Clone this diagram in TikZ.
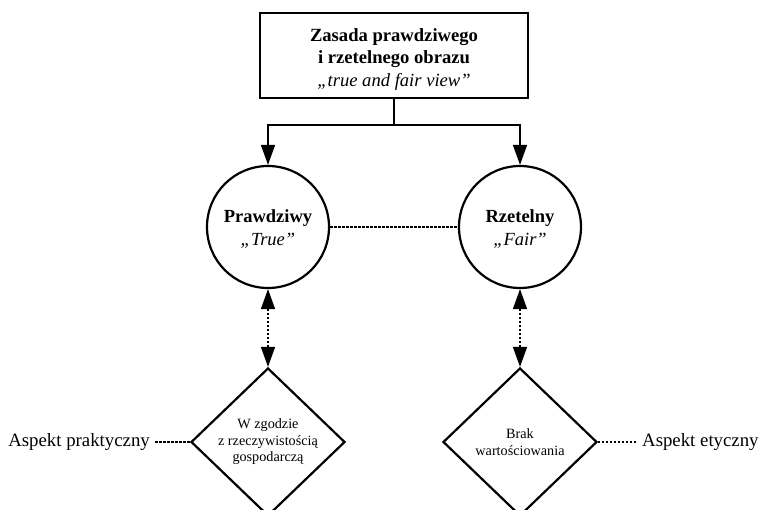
\documentclass[tikz,border=0pt]{standalone}
\usepackage{fontspec}
\setmainfont{Liberation Serif}
\usetikzlibrary{shapes.geometric,arrows.meta}
\begin{document}
\begin{tikzpicture}[x=1pt,y=-1pt,
 box/.style={draw,line width=2.2pt,minimum width=268pt,minimum height=85pt,align=center,inner sep=0pt,font=\fontsize{18.6}{22.5}\selectfont},
 circ/.style={draw,circle,line width=2.2pt,minimum size=122pt,align=center,inner sep=0pt,font=\fontsize{18.5}{23}\selectfont},
 dia/.style={draw,diamond,line width=2.2pt,minimum width=154pt,minimum height=148pt,align=center,inner sep=0pt,font=\fontsize{14.2}{16.5}\selectfont},
 lab/.style={font=\fontsize{18.8}{20}\selectfont,inner sep=0pt},
 conn/.style={line width=1.4pt},
 dots/.style={line width=1.4pt,dash pattern=on 2.5pt off 1.5pt},
 tip/.style={-{Triangle[length=20pt,width=14pt]}},
 tips/.style={{Triangle[length=20pt,width=14pt]}-{Triangle[length=20pt,width=14pt]}}
]
\useasboundingbox (0,0) rectangle (761,510);
\clip (0,0) rectangle (761,510);
\node[box] (top) at (394,55.5) {\rule{0pt}{20pt}\textbf{Zasada prawdziwego}\\\textbf{i rzetelnego obrazu}\\\textit{„true and fair view”}};
\node[circ] (c1) at (268,227) {\rule{0pt}{17pt}\textbf{Prawdziwy}\\\textit{„True”}};
\node[circ] (c2) at (520,227) {\rule{0pt}{17pt}\textbf{Rzetelny}\\\textit{„Fair”}};
\node[dia] (d1) at (268,442) {W zgodzie\\z rzeczywistością\\gospodarczą};
\node[dia] (d2) at (520,442) {Brak\\wartościowania};
\node[lab,anchor=east] (ap) at (150,442) {Aspekt praktyczny};
\node[lab,anchor=west] (ae) at (642,442) {Aspekt etyczny};
\coordinate (j) at (394,125);
\draw[conn] (top.south) -- (j);
\draw[conn,tip] (j) -| (c1.north);
\draw[conn,tip] (j) -| (c2.north);
\draw[dots] (c1) -- (c2);
\draw[dots,tips] (c1) -- (d1);
\draw[dots,tips] (c2) -- (d2);
\draw[dots] ([xshift=5pt]ap.east) -- (d1);
\draw[dots] ([xshift=-6pt]ae.west) -- (d2);
\end{tikzpicture}
\end{document}
